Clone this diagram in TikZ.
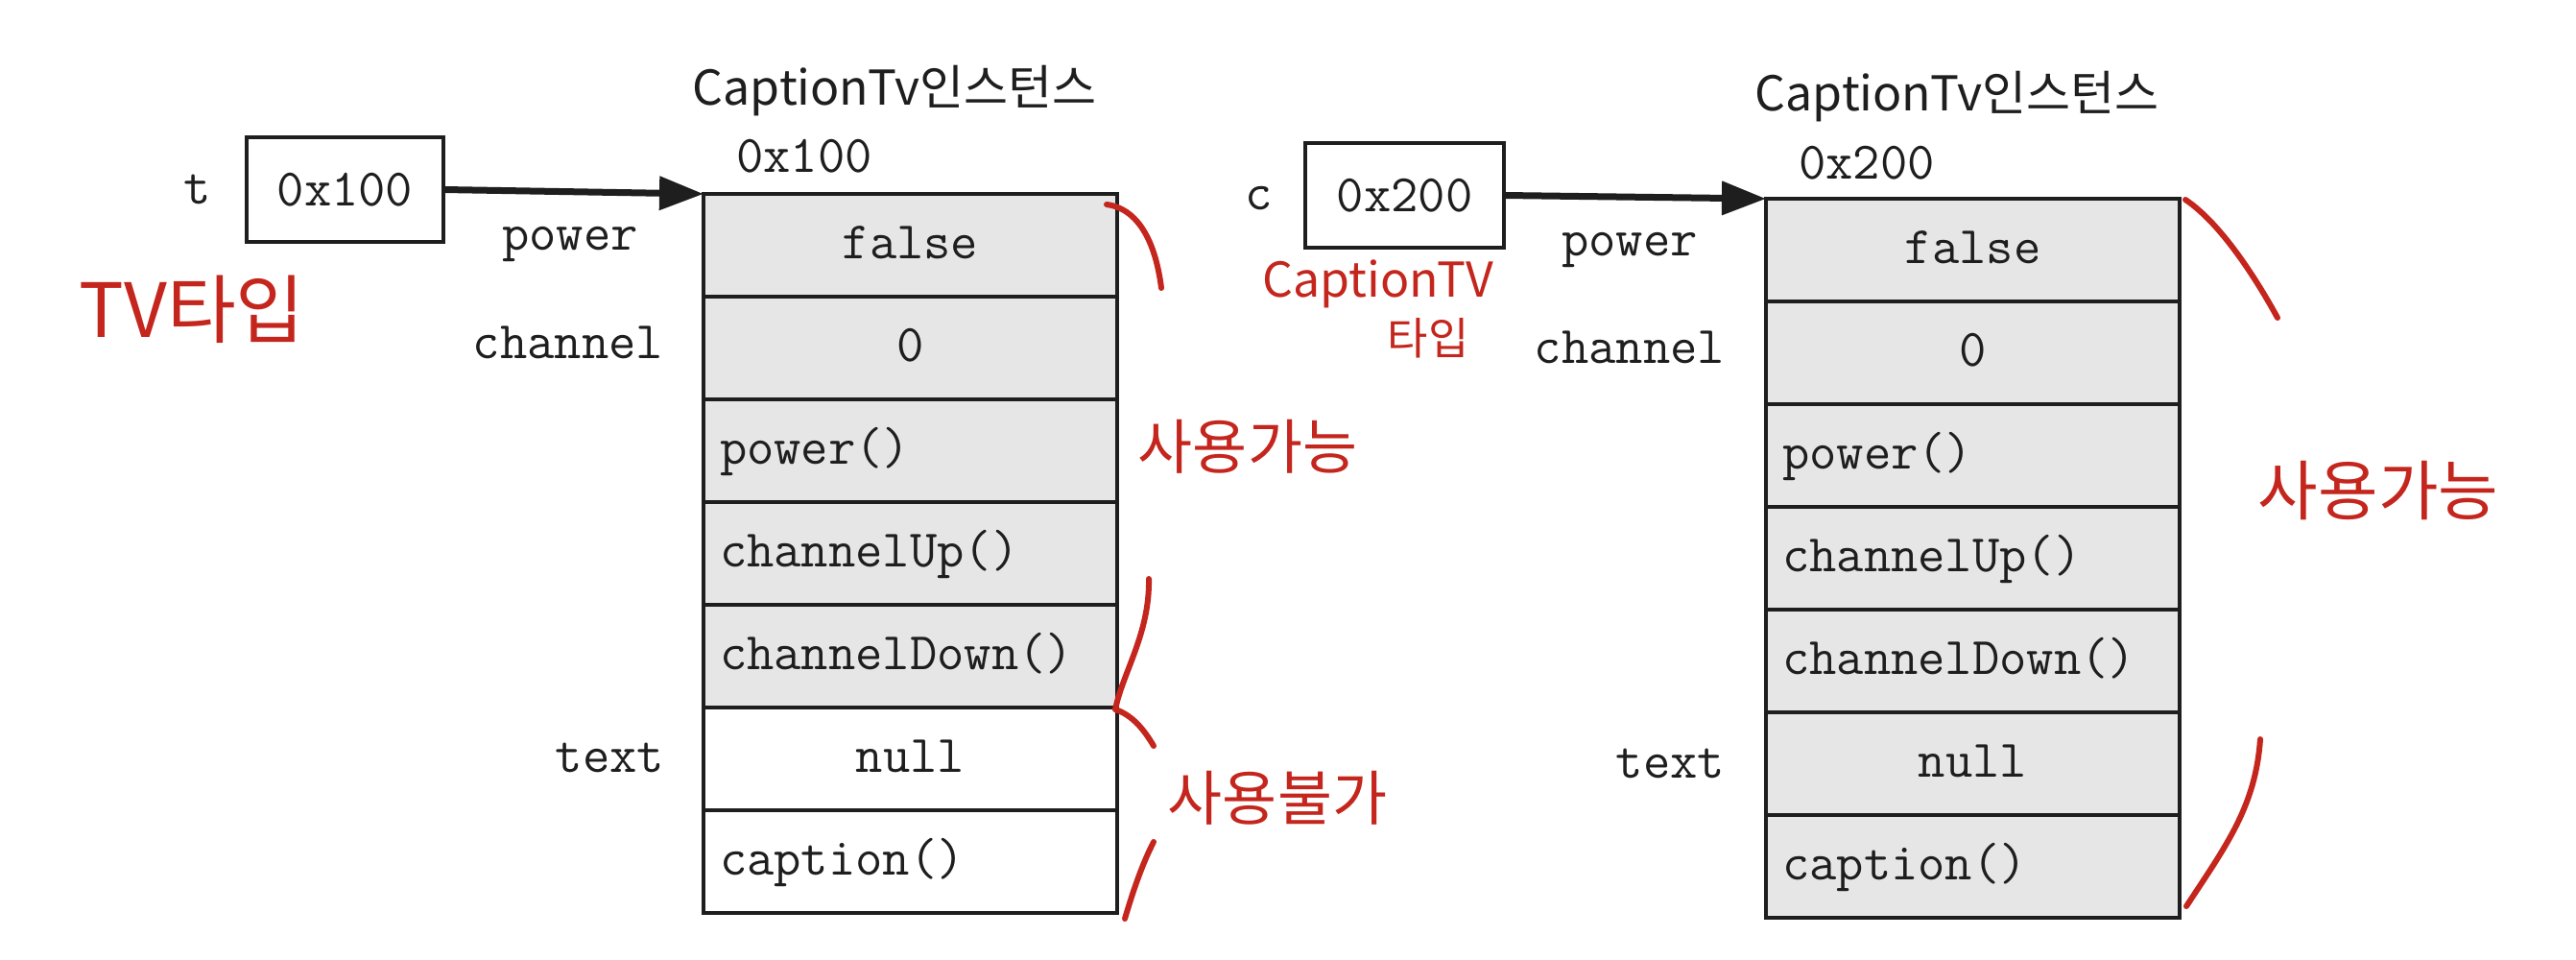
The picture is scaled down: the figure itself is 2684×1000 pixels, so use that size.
\documentclass[tikz,border=0pt]{standalone}
\usepackage{fontspec}
\usetikzlibrary{arrows.meta}
\newfontfamily\krf{Noto Sans CJK KR}
\definecolor{ink}{HTML}{1E1E1E}
\definecolor{cellgray}{HTML}{E6E6E6}
\definecolor{pen}{HTML}{C4261D}
\newcommand{\monosize}{\ttfamily\fontsize{55}{60}\selectfont}
\begin{document}
\begin{tikzpicture}[x=1pt,y=-1pt, outer sep=0pt,
  mono/.style={font=\monosize, inner sep=0pt, text=ink},
  cell/.style={draw=ink, line width=4pt, minimum height=107pt, text width=397pt,
    inner xsep=17pt, inner ysep=0pt, outer sep=0pt, font=\monosize,
    text height=36pt, text depth=8pt, anchor=north west, text=ink},
  gcell/.style={cell, fill=cellgray},
  wcell/.style={cell, fill=white},
  ptrbox/.style={draw=ink, line width=4pt, minimum width=205pt, minimum height=109pt,
    inner sep=0pt, outer sep=0pt, font=\monosize, text=ink},
  title/.style={font=\krf\fontsize{50}{50}\selectfont, inner sep=0pt, text=ink},
  ptr/.style={line width=7pt, draw=ink, -{Triangle[length=46pt,width=34pt]}},
  note/.style={font=\krf\fontsize{60}{60}\selectfont, text=pen, inner sep=0pt},
  penline/.style={draw=pen, line width=6pt, line cap=round, line join=round}
]
\fill[white] (0,0) rectangle (2684,1000);
\useasboundingbox (0,0) rectangle (2684,1000);

% ---------- left: t ----------
\node[title] (titleL) at (932,95) {CaptionTv인스턴스};
\node[mono, anchor=base] (addrL) at (838,180) {0x100};
\node[mono, anchor=base] (tlab) at (206,213) {t};
\node[ptrbox] (tbox) at (359.5,197.5) {0x100};

\node[gcell, align=center] (L1) at (733,202) {false};
\node[gcell, align=center] (L2) at (L1.south west) {0};
\node[gcell, align=left] (L3) at (L2.south west) {power()};
\node[gcell, align=left] (L4) at (L3.south west) {channelUp()};
\node[gcell, align=left] (L5) at (L4.south west) {channelDown()};
\node[wcell, align=center] (L6) at (L5.south west) {null};
\node[wcell, align=left] (L7) at (L6.south west) {caption()};

\node[mono, anchor=base] (powL) at (594,261) {power};
\node[mono, anchor=base east] (chL) at (691,373) {channel};
\node[mono, anchor=base east] (txL) at (692,804) {text};

\draw[ptr] (tbox.east) -- (L1.north west);

% ---------- right: c ----------
\node[title] (titleR) at (2039,101) {CaptionTv인스턴스};
\node[mono, anchor=base] (addrR) at (1945,187) {0x200};
\node[mono, anchor=base] (clab) at (1312,219) {c};
\node[ptrbox, minimum width=207pt] (cbox) at (1463.5,203.5) {0x200};

\node[gcell, align=center] (R1) at (1840,207) {false};
\node[gcell, align=center] (R2) at (R1.south west) {0};
\node[gcell, align=left] (R3) at (R2.south west) {power()};
\node[gcell, align=left] (R4) at (R3.south west) {channelUp()};
\node[gcell, align=left] (R5) at (R4.south west) {channelDown()};
\node[gcell, align=center] (R6) at (R5.south west) {null};
\node[gcell, align=left] (R7) at (R6.south west) {caption()};

\node[mono, anchor=base] (powR) at (1698,266) {power};
\node[mono, anchor=base east] (chR) at (1797,378) {channel};
\node[mono, anchor=base east] (txR) at (1797,810) {text};

\draw[ptr] (cbox.east) -- (R1.north west);

% ---------- red handwritten notes ----------
\node[note, font=\krf\fontsize{78}{78}\selectfont] (n1) at (200,322) {TV타입};
\node[note, font=\krf\fontsize{50}{50}\selectfont] (n2a) at (1436,296) {CaptionTV};
\node[note, font=\krf\fontsize{46}{46}\selectfont] (n2b) at (1488,352) {타입};
\node[note, font=\krf\fontsize{62}{62}\selectfont] (n3) at (1300,465) {사용가능};
\node[note, font=\krf\fontsize{62}{62}\selectfont] (n4) at (1331,831) {사용불가};
\node[note, font=\krf\fontsize{68}{68}\selectfont] (n5) at (2478,511) {사용가능};

\draw[penline] (1153,213) .. controls (1190,218) and (1205,260) .. (1210,300);
\draw[penline] (1197,603) .. controls (1198,660) and (1170,700) .. (1162,739)
               .. controls (1180,745) and (1192,760) .. (1202,777);
\draw[penline] (1202,877) .. controls (1190,900) and (1180,930) .. (1172,957);
\draw[penline] (2277,208) .. controls (2310,230) and (2345,280) .. (2373,331);
\draw[penline] (2355,770) .. controls (2350,840) and (2320,880) .. (2278,944);
\end{tikzpicture}
\end{document}
